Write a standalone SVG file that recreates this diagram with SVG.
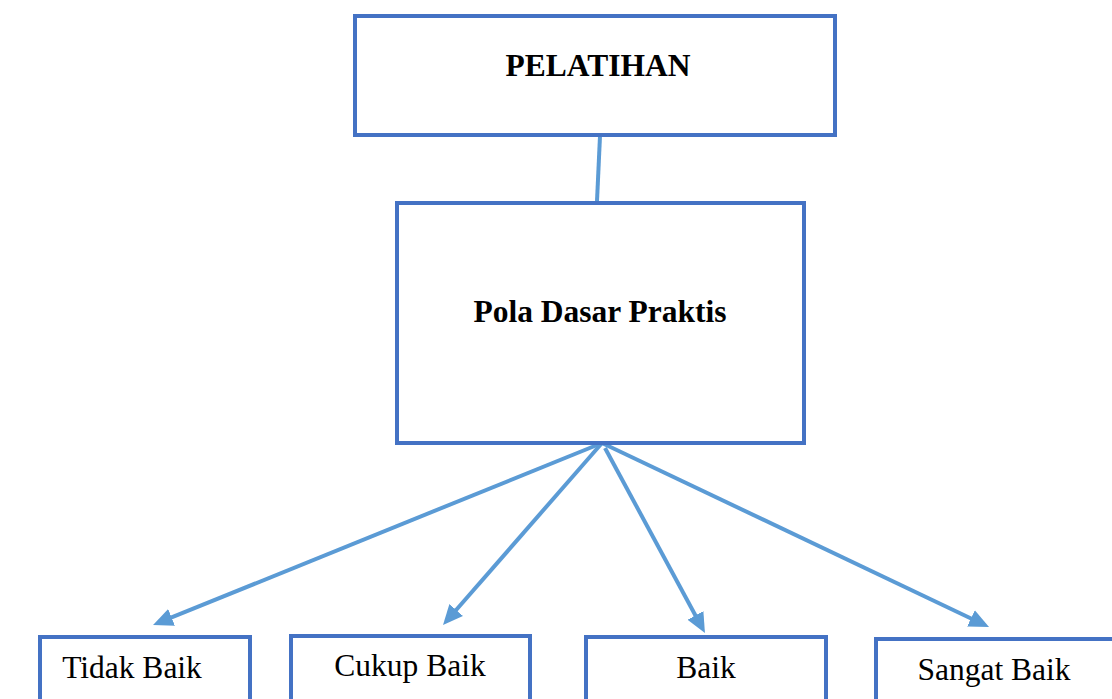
<svg xmlns="http://www.w3.org/2000/svg" width="1112" height="699" viewBox="0 0 1112 699">
<style>
.box{fill:#fff;stroke:#4472C4;stroke-width:4}
.lbl{font-family:"Liberation Serif","Times New Roman",serif;font-size:31.5px;fill:#000;text-anchor:middle}
.b{font-weight:bold}
.conn{stroke:#5B9BD5;stroke-width:4;fill:none}
</style>
<defs>
<marker id="ah" markerUnits="userSpaceOnUse" markerWidth="22" markerHeight="20" refX="10" refY="9" orient="auto" viewBox="0 0 22 18">
<polygon points="0,0 20,9 0,18" fill="#5B9BD5"/>
</marker>
</defs>
<rect width="1112" height="699" fill="#fff"/>
<g id="connectors">
<line class="conn" x1="600" y1="136" x2="597" y2="201"/>
<line class="conn" x1="602" y1="443" x2="162.3" y2="621.2" marker-end="url(#ah)"/>
<line class="conn" x1="602" y1="443" x2="449.6" y2="617.5" marker-end="url(#ah)"/>
<line class="conn" x1="605" y1="448" x2="700.2" y2="624.2" marker-end="url(#ah)"/>
<line class="conn" x1="602" y1="443" x2="980" y2="622.7" marker-end="url(#ah)"/>
</g>
<g id="pelatihan">
<rect class="box" x="355" y="16" width="480" height="119"/>
<text class="lbl b" x="598" y="76">PELATIHAN</text>
</g>
<g id="pola">
<rect class="box" x="397" y="203" width="407" height="240"/>
<text class="lbl b" x="600" y="322">Pola Dasar Praktis</text>
</g>
<g id="tidak">
<rect class="box" x="40" y="637" width="210" height="80"/>
<text class="lbl" x="132" y="678">Tidak Baik</text>
</g>
<g id="cukup">
<rect class="box" x="291" y="636" width="239" height="80"/>
<text class="lbl" x="410" y="676">Cukup Baik</text>
</g>
<g id="baik">
<rect class="box" x="586" y="637" width="240" height="80"/>
<text class="lbl" x="706" y="678">Baik</text>
</g>
<g id="sangat">
<rect class="box" x="876" y="639" width="250" height="80"/>
<text class="lbl" x="994" y="680">Sangat Baik</text>
</g>
</svg>
